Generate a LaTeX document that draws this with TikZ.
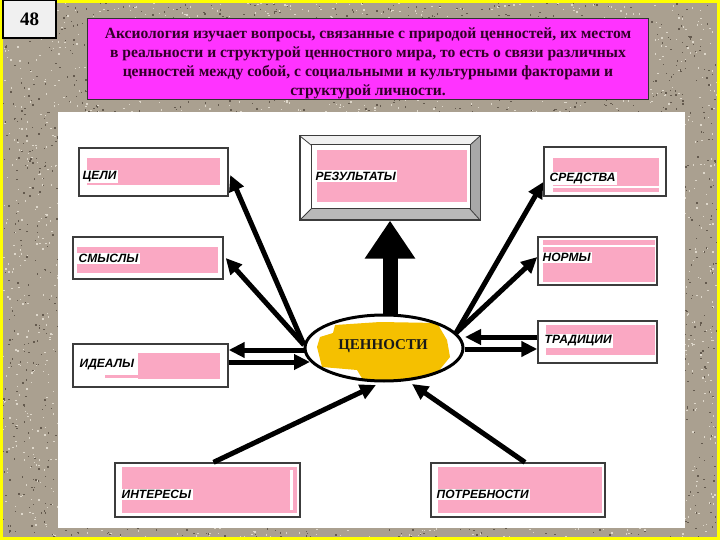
\documentclass[tikz,border=0pt]{standalone}
\usepackage{fontspec}
\setmainfont{Liberation Serif}
\setsansfont{Liberation Sans}
\usetikzlibrary{arrows.meta,shapes.geometric,calc}
\definecolor{bgtex}{RGB}{170,160,144}
\definecolor{specdark}{RGB}{100,90,78}
\definecolor{speclight}{RGB}{222,215,202}
\definecolor{frameyel}{RGB}{255,255,0}
\definecolor{magbox}{RGB}{255,51,255}
\definecolor{magtext}{RGB}{50,0,40}
\definecolor{pinkfill}{RGB}{250,168,195}
\definecolor{valyel}{RGB}{245,192,0}
\definecolor{boxline}{RGB}{60,60,60}
\definecolor{bevdark}{RGB}{168,168,168}
\definecolor{bevlight}{RGB}{240,240,240}
\tikzset{
  lbox/.style={draw=boxline, line width=1.4pt, fill=white, inner sep=0pt},
  pinkrect/.style={fill=pinkfill, draw=none},
  lbl/.style={fill=white, inner sep=1.5pt, font=\sffamily\bfseries\itshape\fontsize{12}{13}\selectfont, anchor=west},
  arr/.style={line width=5pt, -{Triangle[length=16pt,width=15pt]}},
}
\begin{document}
\begin{tikzpicture}[x=1pt,y=-1pt]
\useasboundingbox (0,0) rectangle (720,540);
% background with granite speckles
\fill[bgtex] (0,0) rectangle (720,540);
\pgfmathsetseed{7}
\foreach \i in {1,...,3500} {
  \pgfmathsetmacro{\px}{rnd*720}
  \pgfmathsetmacro{\py}{rnd*540}
  \fill[specdark] (\px,\py) rectangle ++(1.4,1.4);
  \pgfmathsetmacro{\qx}{rnd*720}
  \pgfmathsetmacro{\qy}{rnd*540}
  \fill[speclight] (\qx,\qy) rectangle ++(1.4,1.4);
}
\draw[frameyel, line width=3pt] (1.5,1.5) rectangle (718.5,538.5);
% number box
\node[draw=black, line width=1.2pt, fill=bevlight, minimum width=53pt, minimum height=38pt, inner sep=0pt,
  font=\bfseries\fontsize{19}{20}\selectfont] (num) at (29.5,19) {48};
% top text box
\node[draw=black!80, line width=1pt, fill=magbox, minimum width=561pt, minimum height=81pt, inner sep=0pt] (topbox) at (368,59.5) {};
\node[text=magtext, align=center, font=\bfseries\fontsize{15.6}{19.2}\selectfont] (toptext) at ([yshift=-4pt]topbox.center)
 {Аксиология изучает вопросы, связанные с природой ценностей, их местом\\
  в реальности и структурой ценностного мира, то есть о связи различных\\
  ценностей между собой, с социальными и культурными факторами и\\
  структурой личности.};
% white panel
\fill[white] (58,112) rectangle (685,528);

% ЦЕЛИ
\node[lbox, minimum width=149pt, minimum height=48pt] (celi) at (153.5,172) {};
\fill[pinkrect] (87,158) rectangle (220,185);
\node[lbl] at (81,176.5) {ЦЕЛИ};
% СМЫСЛЫ
\node[lbox, minimum width=150pt, minimum height=42pt] (smysly) at (148,258) {};
\fill[pinkrect] (77,247) rectangle (218,273);
\node[lbl] at (77,258.5) {СМЫСЛЫ};
% ИДЕАЛЫ
\node[lbox, minimum width=155pt, minimum height=43pt] (idealy) at (150.5,365.5) {};
\fill[pinkrect] (138,353) rectangle (220,379);
\fill[pinkrect] (105,375) rectangle (138,378);
\node[lbl] at (78,365) {ИДЕАЛЫ};
% ИНТЕРЕСЫ
\node[lbox, minimum width=185pt, minimum height=54pt] (interesy) at (207.5,490) {};
\fill[pinkrect] (122,467) rectangle (297,513);
\fill[white] (290,470) rectangle (293,510);
\node[lbl] at (120,494.5) {ИНТЕРЕСЫ};
% ПОТРЕБНОСТИ
\node[lbox, minimum width=174pt, minimum height=54pt] (potreb) at (518,490) {};
\fill[pinkrect] (438,467) rectangle (602,513);
\node[lbl] at (435,494.5) {ПОТРЕБНОСТИ};
% СРЕДСТВА
\node[lbox, minimum width=122pt, minimum height=49pt] (sredstva) at (605,171.5) {};
\fill[pinkrect] (553,158) rectangle (659,192);
\fill[white] (553,186) rectangle (659,188);
\node[lbl] at (548,178.5) {СРЕДСТВА};
% НОРМЫ
\node[lbox, minimum width=119pt, minimum height=48pt] (normy) at (597.5,261) {};
\fill[pinkrect] (543,240) rectangle (655,282);
\fill[white] (543,245) rectangle (655,247);
\node[lbl] at (541,257.5) {НОРМЫ};
% ТРАДИЦИИ
\node[lbox, minimum width=119pt, minimum height=42pt] (tradicii) at (597.5,342) {};
\fill[pinkrect] (546,325) rectangle (655,355);
\node[lbl] at (543,341) {ТРАДИЦИИ};

% РЕЗУЛЬТАТЫ (bevelled frame)
\node[draw=boxline, line width=1.2pt, fill=white, minimum width=180pt, minimum height=84pt, inner sep=0pt] (rez) at (390,178) {};
\fill[bevlight] (300,136) -- (480,136) -- (470,145) -- (311,145) -- cycle;
\fill[white] (300,136) -- (311,145) -- (311,209) -- (300,220) -- cycle;
\fill[bevdark] (480,136) -- (480,220) -- (470,209) -- (470,145) -- cycle;
\fill[bevdark!80] (300,220) -- (480,220) -- (470,209) -- (311,209) -- cycle;
\draw[boxline, line width=1pt] (300,136) rectangle (480,220);
\draw[boxline, line width=1pt] (311,145) rectangle (470,209);
\draw[boxline, line width=0.8pt] (300,136) -- (311,145) (480,136) -- (470,145) (480,220) -- (470,209) (300,220) -- (311,209);
\fill[pinkrect] (317,150) rectangle (467,202);
\node[lbl] at (314,176) {РЕЗУЛЬТАТЫ};

% ЦЕННОСТИ ellipse
\node[ellipse, draw=none, minimum width=158pt, minimum height=66pt, inner sep=0pt] (val) at (384,348) {};
\fill[white] (384,348) ellipse [x radius=79, y radius=33];
\begin{scope}
\clip (384,348) ellipse [x radius=78, y radius=32];
\fill[valyel] (335,325) -- (380,322) -- (437,323) -- (447,340) -- (450,357) -- (437,373)
  -- (415,380) -- (390,382) -- (363,380) -- (357,370) -- (322,367) -- (317,347) -- (320,337) -- (333,333) -- cycle;
\end{scope}
\draw[black, line width=3pt] (384,348) ellipse [x radius=79, y radius=33];
\node[font=\bfseries\fontsize{15}{16}\selectfont, text=black!90] (valtext) at (383,346) {ЦЕННОСТИ};

% big arrow up
\draw[line width=15pt, -{Triangle[length=38pt,width=48pt]}] (rez.south |- val.north) -- (rez.south);

% arrows
\coordinate (lstart) at (304,345);
\coordinate (rstart) at (456,333);
\draw[arr] (lstart) -- ([xshift=1.5pt,yshift=-3pt]celi.east);
\draw[arr] (lstart) -- ([xshift=2pt]smysly.east);
\draw[arr] (305,350) -- ([yshift=15.5pt]idealy.east);
\draw[arr] ([yshift=3.5pt]idealy.east) -- (310,362);
\draw[arr] ([xshift=6pt]interesy.north) -- (376,385);
\draw[arr] ([xshift=7pt]potreb.north) -- (412,384);
\draw[arr] (rstart) -- ([yshift=-10.5pt]sredstva.west);
\draw[arr] (rstart) -- ([yshift=4pt]normy.west);
\draw[arr] ([yshift=5pt]tradicii.west) -- (465,337);
\draw[arr] (465,349) -- ([yshift=-7pt]tradicii.west);
\end{tikzpicture}
\end{document}
